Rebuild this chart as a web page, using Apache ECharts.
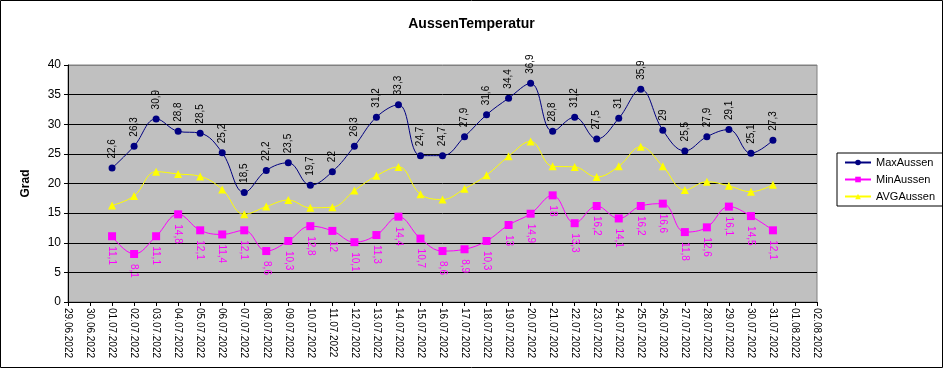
<!DOCTYPE html>
<html>
<head>
<meta charset="utf-8">
<script src="https://cdn.jsdelivr.net/npm/echarts@6/dist/echarts.min.js"></script>
<style>
html,body{margin:0;padding:0;background:#fff;}
#c{width:943px;height:368px;}
</style>
</head>
<body>
<div id="c"></div>
<script>
var categories = ['29.06.2022','30.06.2022','01.07.2022','02.07.2022','03.07.2022','04.07.2022','05.07.2022','06.07.2022','07.07.2022','08.07.2022','09.07.2022','10.07.2022','11.07.2022','12.07.2022','13.07.2022','14.07.2022','15.07.2022','16.07.2022','17.07.2022','18.07.2022','19.07.2022','20.07.2022','21.07.2022','22.07.2022','23.07.2022','24.07.2022','25.07.2022','26.07.2022','27.07.2022','28.07.2022','29.07.2022','30.07.2022','31.07.2022','01.08.2022','02.08.2022'];
var maxAussen = [null,null,22.6,26.3,30.9,28.8,28.5,25.2,18.5,22.2,23.5,19.7,22,26.3,31.2,33.3,24.7,24.7,27.9,31.6,34.4,36.9,28.8,31.2,27.5,31,35.9,29,25.5,27.9,29.1,25.1,27.3,null,null];
var minAussen = [null,null,11.1,8.1,11.1,14.8,12.1,11.4,12.1,8.6,10.3,12.8,12,10.1,11.3,14.4,10.7,8.6,8.9,10.3,13,14.9,18,13.3,16.2,14.1,16.2,16.6,11.8,12.6,16.1,14.5,12.1,null,null];
var avgAussen = [null,null,16.3,17.9,22.0,21.6,21.2,19.0,14.8,16.1,17.2,15.9,16.0,18.8,21.3,22.8,18.2,17.3,19.1,21.4,24.6,27.1,22.9,22.8,21.1,22.9,26.2,22.9,18.9,20.3,19.6,18.6,19.8,null,null];
var yTicks = [0,5,10,15,20,25,30,35,40];

var FONT = 'Arial, "Liberation Sans", sans-serif';
function fmt(p){ return p.value == null ? '' : String(p.value).replace('.', ','); }

var chart = echarts.init(document.getElementById('c'), null, {renderer:'canvas'});
chart.setOption({
  animation:false,
  backgroundColor:'#fff',
  textStyle:{fontFamily:FONT},
  title:{
    text:'AussenTemperatur', left:'center', top:12,
    textStyle:{fontFamily:FONT, fontSize:14, fontWeight:'bold', color:'#000'}
  },
  graphic:[{type:'rect', shape:{x:0.5,y:0.5,width:942,height:367}, style:{fill:null, stroke:'#000', lineWidth:1}, silent:true, z:-10}],
  legend:{
    orient:'vertical', left:837, top:153,
    borderColor:'#000', borderWidth:1, padding:[4,8,4,7],
    itemWidth:26, itemHeight:7, itemGap:6,
    textStyle:{fontFamily:FONT, fontSize:11, color:'#000'},
    data:['MaxAussen','MinAussen','AVGAussen']
  },
  grid:{
    left:68, top:65, right:126, bottom:66,
    show:true, backgroundColor:'#c0c0c0', borderColor:'#808080', borderWidth:1
  },
  xAxis:{
    type:'category', data:categories, boundaryGap:false,
    axisLine:{lineStyle:{color:'#000', width:1}},
    axisTick:{show:true, interval:0, length:4, lineStyle:{color:'#000'}},
    axisLabel:{interval:0, rotate:-90, fontSize:10, color:'#000', margin:6, fontFamily:FONT},
    splitLine:{show:false}
  },
  yAxis:{
    type:'value', min:yTicks[0], max:yTicks[yTicks.length-1], interval:5,
    name:'Grad', nameLocation:'middle', nameGap:36,
    nameTextStyle:{fontFamily:FONT, fontSize:12, fontWeight:'bold', color:'#000'},
    axisLine:{show:true, lineStyle:{color:'#000', width:1}},
    axisTick:{show:true, length:4, lineStyle:{color:'#000'}},
    axisLabel:{fontSize:12, color:'#000', margin:7, fontFamily:FONT},
    splitLine:{show:true, lineStyle:{color:['#000','#000','#000','#000','#000','#000','#000','#000','#808080'], width:1}}
  },
  series:[
    {
      name:'MaxAussen', type:'line', data:maxAussen, smooth:0.4,
      symbol:'circle', symbolSize:7,
      lineStyle:{color:'#000080', width:1}, itemStyle:{color:'#000080'},
      label:{show:true, position:'top', rotate:90, align:'left', verticalAlign:'middle', distance:6,
             fontSize:10, color:'#000', fontFamily:FONT, formatter:fmt},
      z:4
    },
    {
      name:'MinAussen', type:'line', data:minAussen, smooth:0.4,
      symbol:'rect', symbolSize:8,
      lineStyle:{color:'#ff00ff', width:1}, itemStyle:{color:'#ff00ff'},
      label:{show:true, position:'bottom', rotate:-90, align:'left', verticalAlign:'middle', distance:6,
             fontSize:10, color:'#ff00ff', fontFamily:FONT, formatter:fmt},
      z:3
    },
    {
      name:'AVGAussen', type:'line', data:avgAussen, smooth:0.4,
      symbol:'triangle', symbolSize:8,
      lineStyle:{color:'#ffff00', width:1}, itemStyle:{color:'#ffff00'},
      label:{show:false},
      z:2
    }
  ]
});
</script>
</body>
</html>
